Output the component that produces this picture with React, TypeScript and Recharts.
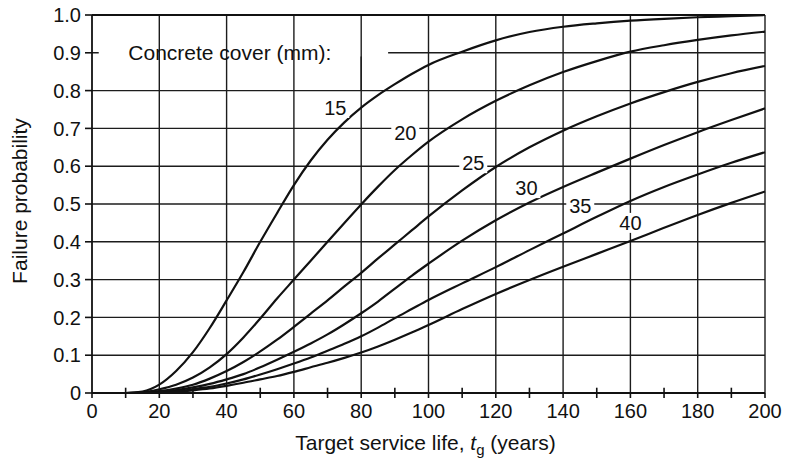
import React from "react";
import {
  LineChart,
  Line,
  XAxis,
  YAxis,
  CartesianGrid,
  ReferenceLine,
  ReferenceArea,
  ReferenceDot,
  Label,
} from "recharts";

// Target service life (years)
const years = [0, 10, 15, 20, 25, 30, 35, 40, 45, 50, 55, 60, 65, 70, 75, 80, 85, 90, 95, 100, 110, 120, 130, 140, 150, 160, 170, 180, 190, 200];

// Failure probability per concrete cover (mm)
const cover15 = [0, 0, 0.004, 0.022, 0.058, 0.108, 0.172, 0.245, 0.32, 0.4, 0.476, 0.55, 0.615, 0.67, 0.716, 0.755, 0.788, 0.817, 0.844, 0.868, 0.903, 0.933, 0.955, 0.969, 0.978, 0.985, 0.99, 0.994, 0.997, 1.0];
const cover20 = [0, 0, 0.002, 0.01, 0.022, 0.041, 0.068, 0.103, 0.147, 0.197, 0.25, 0.3, 0.35, 0.4, 0.45, 0.499, 0.546, 0.59, 0.629, 0.665, 0.724, 0.773, 0.814, 0.849, 0.878, 0.903, 0.92, 0.934, 0.946, 0.956];
const cover25 = [0, 0, 0.001, 0.005, 0.012, 0.022, 0.038, 0.058, 0.082, 0.11, 0.141, 0.175, 0.21, 0.245, 0.282, 0.318, 0.356, 0.393, 0.43, 0.467, 0.536, 0.598, 0.65, 0.694, 0.732, 0.766, 0.796, 0.823, 0.846, 0.865];
const cover30 = [0, 0, 0.001, 0.003, 0.008, 0.015, 0.024, 0.036, 0.05, 0.068, 0.088, 0.109, 0.131, 0.155, 0.182, 0.211, 0.242, 0.276, 0.31, 0.342, 0.403, 0.457, 0.504, 0.545, 0.583, 0.62, 0.656, 0.69, 0.722, 0.753];
const cover35 = [0, 0, 0, 0.002, 0.005, 0.01, 0.016, 0.025, 0.036, 0.049, 0.063, 0.078, 0.094, 0.112, 0.13, 0.15, 0.173, 0.198, 0.222, 0.246, 0.29, 0.333, 0.378, 0.422, 0.466, 0.508, 0.545, 0.578, 0.609, 0.637];
const cover40 = [0, 0, 0, 0.001, 0.003, 0.007, 0.012, 0.019, 0.027, 0.036, 0.045, 0.056, 0.068, 0.08, 0.093, 0.107, 0.123, 0.141, 0.16, 0.18, 0.222, 0.262, 0.299, 0.334, 0.368, 0.402, 0.437, 0.471, 0.503, 0.533];

// Curve labels and their anchor (year, probability)
const coverNames = ["15", "20", "25", "30", "35", "40"];
const labelYears = [72.3, 93.1, 113.3, 129.1, 145.1, 160];
const labelProbs = [0.754, 0.688, 0.608, 0.542, 0.495, 0.45];

// Axis ticks
const xTicks = [0, 10, 20, 30, 40, 50, 60, 70, 80, 90, 100, 110, 120, 130, 140, 150, 160, 170, 180, 190, 200];
const xGridYears = [20, 40, 60, 80, 100, 120, 140, 160, 180, 200];
const xMinorTicks = [10, 30, 50, 70, 90, 110, 130, 150, 170, 190];
const yTicks = [0, 0.1, 0.2, 0.3, 0.4, 0.5, 0.6, 0.7, 0.8, 0.9, 1.0];

const seriesKeys = ["c15", "c20", "c25", "c30", "c35", "c40"];
const seriesValues = [cover15, cover20, cover25, cover30, cover35, cover40];

const data = years.map((t, i) => {
  const row: Record<string, number> = { t };
  seriesKeys.forEach((k, j) => {
    row[k] = seriesValues[j][i];
  });
  return row;
});

const FONT = "'Liberation Sans', Arial, Helvetica, sans-serif";
const INK = "#111";
const GRID = "#1c1c1c";

const XTitle = (props: any) => {
  const vb = props.viewBox || { x: 92, y: 393, width: 673, height: 40 };
  const cx = vb.x + vb.width / 2 - 3;
  const y = vb.y + 57;
  return (
    <text x={cx} y={y} textAnchor="middle" fontFamily={FONT} fontSize={21} fill={INK}>
      <tspan>Target service life, </tspan>
      <tspan fontStyle="italic">t</tspan>
      <tspan fontSize={15} dy={5}>g</tspan>
      <tspan dy={-5}> (years)</tspan>
    </text>
  );
};

const YTitle = (props: any) => {
  const vb = props.viewBox || { x: 12, y: 15, width: 80, height: 378 };
  const cx = vb.x + 8;
  const cy = vb.y + vb.height / 2 - 3;
  return (
    <text
      x={cx}
      y={cy}
      transform={`rotate(-90 ${cx} ${cy})`}
      textAnchor="middle"
      dy="0.35em"
      fontFamily={FONT}
      fontSize={21}
      fill={INK}
    >
      Failure probability
    </text>
  );
};

const makeCurveLabel = (text: string) => (props: any) => {
  const { cx, cy } = props;
  return (
    <g>
      <rect x={cx - 14} y={cy - 10} width={28} height={20} fill="#fff" />
      <text x={cx} y={cy} textAnchor="middle" dy="0.35em" fontFamily={FONT} fontSize={20} fill={INK}>
        {text}
      </text>
    </g>
  );
};

const legendTitle = (props: any) => {
  const { cx, cy } = props;
  return (
    <text x={cx} y={cy} textAnchor="start" dy="0.35em" fontFamily={FONT} fontSize={21} fill={INK}>
      Concrete cover (mm):
    </text>
  );
};

export default function App() {
  return (
    <div style={{ position: "absolute", left: 0, top: 0, width: 788, height: 461, background: "#fff" }}>
      <LineChart width={788} height={461} data={data} margin={{ top: 15, right: 23, bottom: 28, left: 12 }}>
        <CartesianGrid vertical={false} stroke={GRID} strokeWidth={1.4} strokeOpacity={1} />
        {xGridYears.map((x) => (
          <ReferenceLine key={"g" + x} x={x} stroke={GRID} strokeWidth={1.4} strokeOpacity={1} />
        ))}
        <ReferenceLine y={1} stroke={INK} strokeWidth={2.2} />
        <ReferenceArea x1={2} x2={88} y1={0.806} y2={0.972} fill="#fff" fillOpacity={1} stroke="none" />
        <ReferenceLine segment={[{ x: 80, y: 0.8 }, { x: 80, y: 0.89 }]} stroke={GRID} strokeWidth={1.4} />
        {xMinorTicks.map((x) => (
          <ReferenceLine key={"m" + x} segment={[{ x, y: 0 }, { x, y: 0.014 }]} stroke={INK} strokeWidth={1.6} />
        ))}
        <XAxis
          type="number"
          dataKey="t"
          domain={[0, 200]}
          ticks={xTicks}
          interval={0}
          height={40}
          tickSize={5}
          tickMargin={6}
          tickFormatter={(v: number) => (v % 20 === 0 ? String(v) : "")}
          axisLine={{ stroke: INK, strokeWidth: 1.8 }}
          tickLine={{ stroke: INK, strokeWidth: 1.6 }}
          tick={{ fill: INK, fontSize: 20, fontFamily: FONT }}
        >
          <Label content={<XTitle />} />
        </XAxis>
        <YAxis
          type="number"
          domain={[0, 1]}
          ticks={yTicks}
          interval={0}
          width={80}
          tickSize={7}
          tickMargin={4}
          tickFormatter={(v: number) => (v === 0 ? "0" : v.toFixed(1))}
          axisLine={{ stroke: INK, strokeWidth: 1.8 }}
          tickLine={{ stroke: INK, strokeWidth: 1.6 }}
          tick={{ fill: INK, fontSize: 20, fontFamily: FONT }}
        >
          <Label content={<YTitle />} />
        </YAxis>
        {seriesKeys.map((k) => (
          <Line
            key={k}
            type="monotone"
            dataKey={k}
            stroke={INK}
            strokeWidth={2.2}
            dot={false}
            activeDot={false}
            isAnimationActive={false}
          />
        ))}
        <ReferenceDot x={10.8} y={0.9} r={0} shape={legendTitle} />
        {coverNames.map((n, i) => (
          <ReferenceDot key={"l" + n} x={labelYears[i]} y={labelProbs[i]} r={0} shape={makeCurveLabel(n)} />
        ))}
      </LineChart>
    </div>
  );
}
